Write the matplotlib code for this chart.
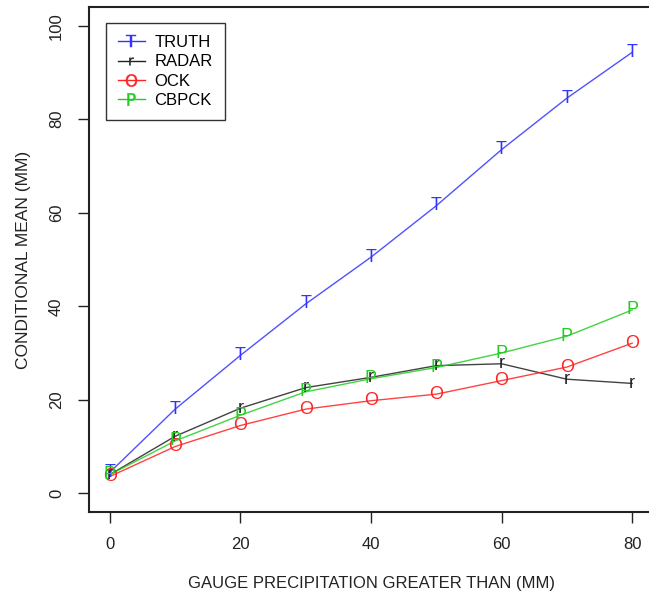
import matplotlib
matplotlib.use("Agg")
from matplotlib import pyplot as plt
from matplotlib.lines import Line2D

plt.rcParams['font.family'] = ['Liberation Sans', 'DejaVu Sans']

threshold = [0, 10, 20, 30, 40, 50, 60, 70, 80]
truth = [4.5, 18.0, 29.5, 40.5, 50.5, 61.5, 73.5, 84.5, 94.3]
radar = [4.0, 12.2, 18.2, 22.6, 24.8, 27.3, 27.7, 24.4, 23.5]
ock = [3.6, 10.0, 14.5, 18.0, 19.8, 21.2, 24.1, 27.0, 32.1]
cbpck = [4.0, 11.2, 16.7, 21.7, 24.5, 26.9, 30.0, 33.6, 39.2]

# name, values, plotting letter, colour, legend marker size
series = [
    ("TRUTH", truth, "T", "#3333ff", 9),
    ("RADAR", radar, "r", "#222222", 5.5),
    ("OCK", ock, "O", "#ff2222", 9),
    ("CBPCK", cbpck, "P", "#22cc22", 9),
]

fig = plt.figure(figsize=(6.49, 5.95), dpi=100)
ax = fig.add_axes([89 / 649, 83 / 595, 564 / 649, 505 / 595])

handles = []
for name, vals, letter, col, ms in series:
    ax.plot(threshold, vals, color=col, lw=1.0, alpha=0.85)
    for x, y in zip(threshold, vals):
        ax.text(x, y, letter, color=col, fontsize=13, ha="center", va="center")
    handles.append(Line2D([], [], color=col, lw=1.0, marker=r"$\mathsf{%s}$" % letter,
                          markersize=ms, markeredgewidth=0.3, label=name))

ax.set_xlim(-3.2, 83.2)
ax.set_ylim(-4, 104)
ax.set_xticks([0, 20, 40, 60, 80])
ax.set_yticks([0, 20, 40, 60, 80, 100])
ax.set_yticklabels(["0", "20", "40", "60", "80", "100"], rotation=90, va="center")
ax.tick_params(direction="out", length=8, width=1, labelsize=12, pad=10, colors="#222222")
for s in ax.spines.values():
    s.set_linewidth(1.5)
    s.set_color("#222222")

ax.set_xlabel("GAUGE PRECIPITATION GREATER THAN (MM)", fontsize=12, labelpad=17, color="#222222")
ax.set_ylabel("CONDITIONAL MEAN (MM)", fontsize=12.5, labelpad=13, color="#222222")

leg = ax.legend(handles=handles, loc="upper left", bbox_to_anchor=(0.03, 0.968),
                borderaxespad=0, fancybox=False, framealpha=1, edgecolor="#333333",
                fontsize=12, handlelength=1.6, handletextpad=0.6, borderpad=0.72,
                labelspacing=0.26)
leg.get_frame().set_linewidth(1.0)

fig.savefig("out.png", dpi=100)
